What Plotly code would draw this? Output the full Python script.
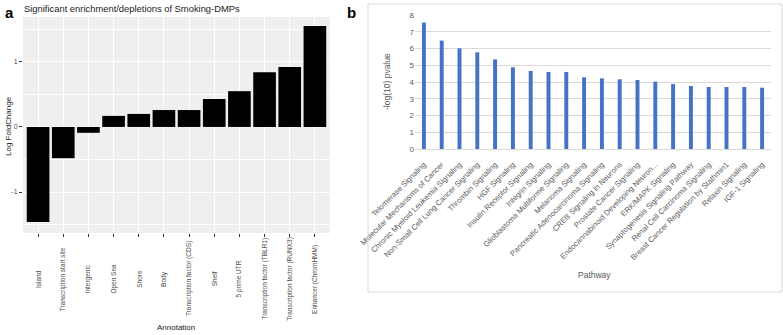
import plotly.graph_objects as go

W, H = 783, 335

# ---------- panel a data ----------
annotations_a = ["Island", "Transcription start site", "Intergenic", "Open Sea", "Shore",
                 "Body", "Transcription factor (CDS)", "Shelf", "5 prime UTR",
                 "Transcription factor (TBLR1)", "Transcription factor (RUNX3)",
                 "Enhancer (ChromHMM)"]
logfc = [-1.46, -0.48, -0.09, 0.17, 0.20, 0.26, 0.26, 0.43, 0.55, 0.84, 0.92, 1.55]
ya_ticks = [-1, 0, 1]
ya_ticktext = ["-1", "0", "1"]

# ---------- panel b data ----------
pathways = ["Telomerase Signaling", "Molecular Mechanisms of Cancer",
            "Chronic Myeloid Leukemia Signaling", "Non-Small Cell Lung Cancer Signaling",
            "Thrombin Signaling", "HGF Signaling", "Insulin Receptor Signaling",
            "Integrin Signaling", "Glioblastoma Multiforme Signaling", "Melanoma Signaling",
            "Pancreatic Adenocarcinoma Signaling", "CREB Signaling in Neurons",
            "Prostate Cancer Signaling", "Endocannabinoid Developing Neuron...",
            "ERK/MAPK Signaling", "Synaptogenesis Signaling Pathway",
            "Renal Cell Carcinoma Signaling", "Breast Cancer Regulation by Stathmin1",
            "Relaxin Signaling", "IGF-1 Signaling"]
neglogp = [7.55, 6.47, 6.01, 5.77, 5.35, 4.88, 4.66, 4.60, 4.60, 4.28,
           4.22, 4.16, 4.12, 4.02, 3.88, 3.76, 3.70, 3.70, 3.70, 3.66]
yb_ticks = [0, 1, 2, 3, 4, 5, 6, 7, 8]

def px(x):
    return x / W

def py(y):
    return 1 - y / H

fig = go.Figure()
fig.add_trace(go.Bar(x=annotations_a, y=logfc, marker=dict(color="black", line=dict(width=0)),
                     width=0.9, xaxis="x", yaxis="y", showlegend=False))
fig.add_trace(go.Bar(x=pathways, y=neglogp, marker=dict(color="#4472C4", line=dict(width=0)),
                     width=0.22, xaxis="x2", yaxis="y2", showlegend=False))

font = "Liberation Sans, Arial, sans-serif"

fig.update_layout(
    width=W, height=H,
    margin=dict(l=0, r=0, t=0, b=0, autoexpand=False),
    paper_bgcolor="white",
    plot_bgcolor="white",
    font=dict(family=font),
    xaxis=dict(domain=[px(23), px(330)], type="category", range=[-0.6, 11.6],
               showticklabels=False, ticks="outside", ticklen=3, tickcolor="#333333",
               showgrid=True, gridcolor="white", gridwidth=1, zeroline=False,
               showline=False, anchor="y", automargin=False),
    yaxis=dict(domain=[py(233), py(17)], range=[-1.63, 1.69],
               tickvals=ya_ticks, ticktext=ya_ticktext, ticks="outside", ticklen=3,
               tickcolor="#333333", tickfont=dict(size=7, color="#4D4D4D"),
               showgrid=True, gridcolor="white", gridwidth=1,
               minor=dict(dtick=0.5, tick0=0, showgrid=True, gridcolor="white", gridwidth=0.5),
               zeroline=False, showline=False, anchor="x", automargin=False),
    xaxis2=dict(domain=[px(415), px(771)], type="category", range=[-0.5, 19.5],
                tickangle=-45, tickfont=dict(size=7.7, color="#595959"),
                ticklabelstandoff=7,
                showgrid=False, ticks="", showline=True, linecolor="#D9D9D9", linewidth=1,
                anchor="y2", automargin=False),
    yaxis2=dict(domain=[py(149), py(15)], range=[0, 8], tickvals=yb_ticks,
                tickfont=dict(size=8, color="#595959"), showgrid=True,
                gridcolor="#D9D9D9", gridwidth=1, zeroline=False, showline=False,
                ticks="", anchor="x2", automargin=False),
    bargap=0.1,
)

shapes = [
    dict(type="rect", xref="paper", yref="paper", x0=px(23), x1=px(330),
         y0=py(233), y1=py(17), fillcolor="#EFEFEF", line=dict(width=0), layer="below"),
    dict(type="rect", xref="paper", yref="paper", x0=px(368), x1=px(782),
         y0=py(292), y1=py(4), fillcolor="rgba(0,0,0,0)",
         line=dict(color="#D9D9D9", width=1)),
]

anns = [
    dict(text="<b>a</b>", x=px(3), y=py(2), xref="paper", yref="paper", xanchor="left",
         yanchor="top", showarrow=False, font=dict(size=15, color="black")),
    dict(text="Significant enrichment/depletions of Smoking-DMPs", x=px(22), y=py(1),
         xref="paper", yref="paper", xanchor="left", yanchor="top", showarrow=False,
         font=dict(size=9.4, color="#222222")),
    dict(text="<b>b</b>", x=px(345), y=py(2), xref="paper", yref="paper", xanchor="left",
         yanchor="top", showarrow=False, font=dict(size=15, color="black")),
    dict(text="Annotation", x=px(176), y=py(327), xref="paper", yref="paper",
         xanchor="center", yanchor="middle", showarrow=False,
         font=dict(size=8, color="#222222")),
    dict(text="Log FoldChange", x=px(8), y=py(126), xref="paper", yref="paper",
         textangle=-90, xanchor="center", yanchor="middle", showarrow=False,
         font=dict(size=8, color="#222222")),
    dict(text="-log(10) pvalue", x=px(387), y=py(82), xref="paper", yref="paper",
         textangle=-90, xanchor="center", yanchor="middle", showarrow=False,
         font=dict(size=8.5, color="#595959")),
    dict(text="Pathway", x=px(594), y=py(275), xref="paper", yref="paper",
         xanchor="center", yanchor="middle", showarrow=False,
         font=dict(size=8.5, color="#595959")),
]
for cat in annotations_a:
    anns.append(dict(text=cat, x=cat, xref="x", y=py(279), yref="paper", textangle=-90,
                     xanchor="center", yanchor="middle", showarrow=False,
                     font=dict(size=6.5, color="#4D4D4D")))

fig.update_layout(shapes=shapes, annotations=anns)
fig.write_html("out.html", config={"displayModeBar": False},
               post_script="document.body.style.margin='0';document.body.style.overflow='hidden';")
